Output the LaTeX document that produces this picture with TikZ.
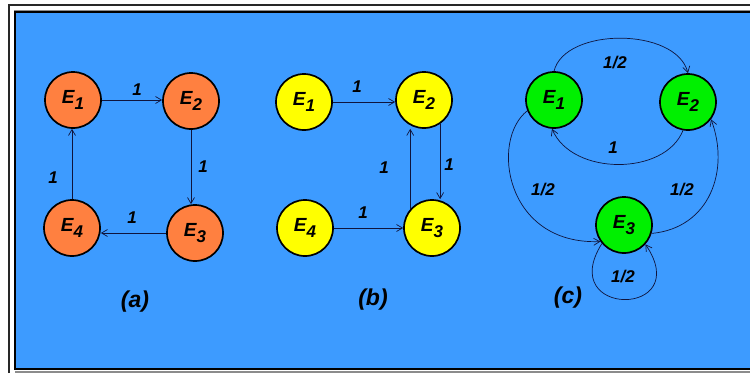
\documentclass[tikz,border=0pt]{standalone}
\usepackage{fontspec}
\setmainfont{Liberation Sans}
\usetikzlibrary{arrows.meta}
\definecolor{bgblue}{RGB}{61,155,255}
\definecolor{stateor}{RGB}{255,128,64}
\definecolor{stateye}{RGB}{255,255,0}
\definecolor{stategr}{RGB}{0,240,0}
\definecolor{edgec}{RGB}{15,20,60}
\definecolor{framec}{RGB}{40,40,40}
\newcommand{\En}[1]{E\raisebox{-6.5pt}{\fontsize{17}{17}\selectfont #1}}

\begin{document}
\begin{tikzpicture}[
  x=1pt, y=-1pt,
  state/.style={circle, draw=black, line width=1.7pt, fill=#1, minimum size=56pt,
    inner sep=0pt, font=\fontsize{19}{19}\selectfont\bfseries\itshape},
  arrow/.style={-{Straight Barb[length=6pt,width=7pt]}, line width=0.7pt, draw=edgec},
  lbl/.style={font=\fontsize{17}{17}\selectfont\bfseries\itshape, inner sep=1pt},
  caption/.style={font=\fontsize{23}{23}\selectfont\bfseries\itshape, inner sep=1pt}
]
\useasboundingbox (0,0) rectangle (750,373);

% frame and background
\fill[white] (0,0) rectangle (750,373);
\draw[framec, line width=2pt] (9,373) -- (9,5) -- (750,5);
\draw[black!45, line width=1pt] (14,10) -- (750,10);
\filldraw[fill=bgblue, draw=black, line width=2pt] (15,12) rectangle (754,369);
\draw[black!45, line width=2pt] (15,371.5) -- (750,371.5);

% (a)
\node[state=stateor] (E1a) at (73,100) {\En{1}};
\node[state=stateor] (E2a) at (191,101) {\En{2}};
\node[state=stateor] (E3a) at (195,233) {\En{3}};
\node[state=stateor] (E4a) at (72,228) {\En{4}};

\draw[arrow] (E1a.east) -- (E1a.east -| E2a.west);
\draw[arrow] (E2a.south) -- (E2a.south |- E3a.north);
\draw[arrow] (E3a.west) -- (E3a.west -| E4a.east);
\draw[arrow] (E4a.north) -- (E4a.north |- E1a.south);

\node[lbl] (l12a) at (137,90) {1};
\node[lbl] (l23a) at (203,167) {1};
\node[lbl] (l34a) at (132,218) {1};
\node[lbl] (l41a) at (53,178) {1};
\node[caption] (capa) at (135,302) {(a)};

% (b)
\node[state=stateye] (E1b) at (304,102) {\En{1}};
\node[state=stateye] (E2b) at (424,100) {\En{2}};
\node[state=stateye] (E3b) at (432,228) {\En{3}};
\node[state=stateye] (E4b) at (305,228) {\En{4}};

\draw[arrow] (E1b.east) -- (E1b.east -| E2b.west);
\draw[arrow] (E4b.east) -- (E4b.east -| E3b.west);
\draw[arrow] (E2b.-56) -- (E2b.-56 |- E3b.north);
\draw[arrow] (E3b.139) -- (E3b.139 |- E2b.south);

\node[lbl] (l12b) at (357,87) {1};
\node[lbl] (l23b) at (449,165) {1};
\node[lbl] (l32b) at (384,168) {1};
\node[lbl] (l43b) at (363,213) {1};
\node[caption] (capb) at (373,300) {(b)};

% (c)
\node[state=stategr] (E1c) at (554,100) {\En{1}};
\node[state=stategr] (E2c) at (688,102) {\En{2}};
\node[state=stategr] (E3c) at (624,225) {\En{3}};

\draw[arrow] (E1c.north) .. controls (565,27) and (676,27) .. (E2c.north);
\draw[arrow] (E2c.260) .. controls (665,176) and (572,176) .. (E1c.266);
\draw[arrow] (E1c.202) .. controls (490,140) and (505,245) .. (E3c.215);
\draw[arrow] (E3c.343) .. controls (710,228) and (730,170) .. (E2c.-37);
\draw[arrow] (E3c.220) .. controls (555,318) and (695,318) .. (E3c.318);

\node[lbl] (l12c) at (615,63) {1/2};
\node[lbl] (l21c) at (613,148) {1};
\node[lbl] (l13c) at (543,190) {1/2};
\node[lbl] (l32c) at (682,190) {1/2};
\node[lbl] (l33c) at (623,277) {1/2};
\node[caption] (capc) at (568,298) {(c)};

\end{tikzpicture}
\end{document}
